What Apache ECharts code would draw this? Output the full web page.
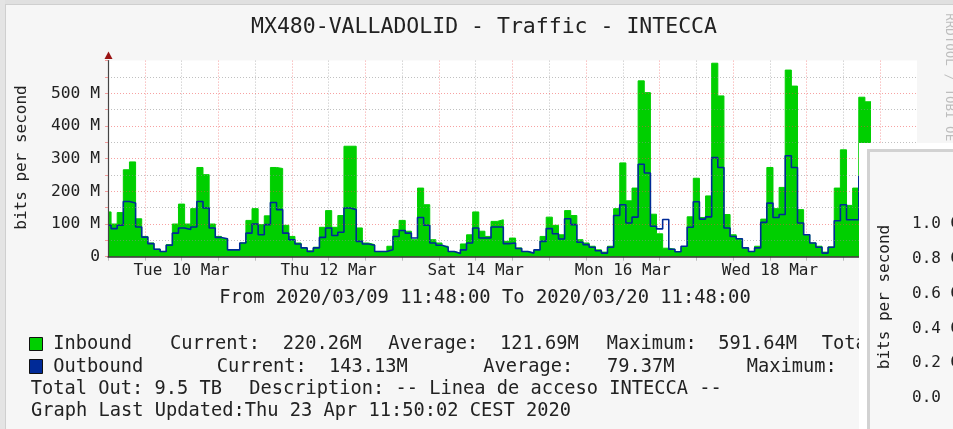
<!DOCTYPE html>
<html>
<head>
<meta charset="utf-8">
<script src="https://cdn.jsdelivr.net/npm/echarts@6/dist/echarts.min.js"></script>
<style>
  html, body { margin: 0; padding: 0; background: #f6f6f6; }
  #chart { width: 953px; height: 429px; }
</style>
</head>
<body>
<div id="chart"></div>
<script>
// 2h averages in Mbit/s, first bucket starts at the left edge (9 Mar ~12:00)
const inboundM = [
  137, 100, 135, 266, 290, 116, 62, 42, 23, 16, 37, 100,
  161, 100, 147, 273, 251, 100, 62, 55, 21, 21, 42, 111,
  147, 98, 125, 273, 270, 96, 62, 42, 27, 18, 29, 90,
  141, 90, 126, 338, 338, 88, 42, 37, 16, 16, 32, 83,
  111, 78, 52, 210, 159, 52, 42, 32, 16, 11, 39, 67,
  137, 78, 62, 108, 113, 47, 57, 27, 16, 11, 21, 62,
  121, 96, 67, 141, 126, 52, 42, 32, 21, 14, 32, 147,
  287, 171, 210, 538, 502, 130, 70, 26, 23, 15, 28, 122,
  240, 120, 186, 592, 492, 129, 67, 55, 27, 16, 32, 115,
  273, 147, 212, 571, 522, 144, 67, 42, 32, 14, 30, 210,
  327, 157, 210, 488, 474
];
const outboundM = [
  96, 86, 96, 169, 164, 91, 60, 40, 23, 16, 35, 72,
  88, 83, 91, 169, 149, 88, 59, 55, 21, 21, 42, 72,
  100, 67, 98, 166, 144, 72, 52, 39, 27, 16, 27, 59,
  88, 65, 75, 149, 144, 47, 39, 35, 16, 16, 21, 62,
  80, 72, 57, 120, 96, 42, 35, 29, 16, 10, 21, 42,
  88, 57, 57, 91, 91, 40, 42, 25, 16, 11, 21, 47,
  86, 70, 54, 116, 98, 44, 37, 29, 18, 11, 29, 126,
  159, 103, 121, 283, 256, 93, 85, 114, 23, 15, 32, 90,
  168, 115, 122, 303, 273, 88, 62, 55, 27, 16, 27, 105,
  164, 120, 129, 309, 273, 103, 67, 42, 29, 11, 29, 110,
  159, 113, 113, 246, 240
];
// hours counted from 9 Mar 00:00
const firstHour = 12;
const firstStep = 13;
const stepHours = 2;
const dayLabels = ['Tue 10 Mar', 'Thu 12 Mar', 'Sat 14 Mar', 'Mon 16 Mar', 'Wed 18 Mar'];
const dayLabelHours = [36, 84, 132, 180, 228];

const MONO = '"DejaVu Sans Mono", monospace';
const GREEN = '#00CF00';
const BLUE = '#002A97';
const RED_GRID = 'rgba(240, 70, 70, 0.5)';
const GRAY_GRID = 'rgba(140, 140, 140, 0.55)';

function toSteps(vals) {
  const pts = vals.map((v, k) => [k === 0 ? firstHour : firstStep + stepHours * (k - 1), v]);
  pts.push([firstStep + stepHours * (vals.length - 1), vals[vals.length - 1]]);
  return pts;
}

function txt(text, x, y, size, opts) {
  opts = opts || {};
  return {
    type: 'text', x: x, y: y, z: opts.z || 10, rotation: opts.rotation || 0,
    style: {
      text: text, fill: opts.fill || '#222', font: size + 'px ' + MONO,
      align: opts.align || 'left', verticalAlign: 'middle'
    }
  };
}

// legend rows: [x, text]
const legendRow1 = [[53.3, 'Inbound'], [170, 'Current:'], [282.7, '220.26M'], [388.3, 'Average:'],
  [500, '121.69M'], [606.7, 'Maximum:'], [718.3, '591.64M'], [821.7, 'Total In:']];
const legendRow2 = [[53.3, 'Outbound'], [216.7, 'Current:'], [329, '143.13M'], [483.3, 'Average:'],
  [607, '79.37M'], [746.7, 'Maximum:']];

const graphics = [
  { type: 'rect', shape: { x: 0, y: 0, width: 953, height: 4 }, style: { fill: '#e0e0e0' }, z: 1 },
  { type: 'rect', shape: { x: 0, y: 0, width: 5, height: 429 }, style: { fill: '#e4e4e4' }, z: 1 },
  { type: 'line', shape: { x1: 5, y1: 4.5, x2: 953, y2: 4.5 }, style: { stroke: '#cfcfcf', lineWidth: 1 }, z: 1 },
  { type: 'line', shape: { x1: 5.5, y1: 4, x2: 5.5, y2: 429 }, style: { stroke: '#cfcfcf', lineWidth: 1 }, z: 1 },
  txt('MX480-VALLADOLID - Traffic - INTECCA', 484, 27.5, 21.5, { align: 'center' }),
  txt('bits per second', 21.5, 157.5, 16, { align: 'center', rotation: Math.PI / 2 }),
  txt('RRDTOOL / TOBI OETIKER', 949, 96, 12.5, { align: 'center', rotation: -Math.PI / 2, fill: '#bdbdbd' }),
  { type: 'polygon', shape: { points: [[104.5, 59], [112.5, 59], [108.5, 51.5]] }, style: { fill: '#9a1414' }, z: 20 },
  txt('From 2020/03/09 11:48:00 To 2020/03/20 11:48:00', 485, 298, 18.8, { align: 'center' }),
  { type: 'rect', shape: { x: 29.5, y: 337.5, width: 13, height: 13 }, style: { fill: GREEN, stroke: '#111', lineWidth: 1 }, z: 10 },
  { type: 'rect', shape: { x: 29.5, y: 359.5, width: 13, height: 14 }, style: { fill: BLUE, stroke: '#111', lineWidth: 1 }, z: 10 },
  txt('Total Out: 9.5 TB', 30.7, 389, 18.7),
  txt('Description: -- Linea de acceso INTECCA --', 249.3, 389, 18.7),
  txt('Graph Last Updated:Thu 23 Apr 11:50:02 CEST 2020', 31, 411.5, 18.7),
  // second graph window overlapping on the right
  { type: 'rect', shape: { x: 859, y: 143, width: 100, height: 300 }, style: { fill: '#ffffff' }, z: 50 },
  { type: 'rect', shape: { x: 868.5, y: 150.5, width: 100, height: 300 }, style: { fill: '#f7f7f7', stroke: '#d2d2d2', lineWidth: 3 }, z: 51 },
  txt('bits per second', 885, 297, 16, { align: 'center', rotation: Math.PI / 2, z: 52 })
];
legendRow1.forEach(p => graphics.push(txt(p[1], p[0], 344, 18.7)));
legendRow2.forEach(p => graphics.push(txt(p[1], p[0], 367, 18.7)));

const chart = echarts.init(document.getElementById('chart'), null, { renderer: 'canvas' });
chart.setOption({
  animation: false,
  backgroundColor: '#f6f6f6',
  grid: [
    { left: 108, right: 36, top: 60.6, bottom: 172.3, show: true, backgroundColor: '#ffffff', borderWidth: 0, outerBoundsMode: 'none' },
    { left: 970, width: 60, top: 224, bottom: 31, outerBoundsMode: 'none' }
  ],
  xAxis: [
    {
      type: 'value', gridIndex: 0, min: 12, max: 276, interval: 12,
      axisLine: { show: false },
      axisTick: { show: true, length: 4, lineStyle: { color: GRAY_GRID } },
      axisLabel: {
        fontFamily: MONO, fontSize: 16, color: '#222', margin: 6,
        formatter: v => {
          const i = dayLabelHours.indexOf(v);
          return i >= 0 ? dayLabels[i] : '';
        }
      },
      splitLine: { show: true, showMaxLine: false, lineStyle: { color: [GRAY_GRID, RED_GRID], type: [1, 2], width: 1 } }
    },
    {
      type: 'value', gridIndex: 0, min: 12, max: 276, position: 'bottom', z: 5,
      axisLine: { show: true, onZero: false, lineStyle: { color: '#333', width: 1.5 } },
      axisTick: { show: false }, axisLabel: { show: false }, splitLine: { show: false }
    },
    { type: 'value', gridIndex: 1, show: false }
  ],
  yAxis: [
    {
      type: 'value', gridIndex: 0, min: 0, max: 600, interval: 50, z: 5,
      axisLine: { show: true, lineStyle: { color: '#444', width: 1.2 } },
      axisTick: { show: true, length: 3, lineStyle: { color: RED_GRID } },
      axisLabel: {
        fontFamily: MONO, fontSize: 16.3, color: '#222', margin: 8,
        formatter: v => (v % 100 !== 0 || v >= 600) ? '' : (v === 0 ? '0' : v + ' M')
      },
      splitLine: { show: true, showMaxLine: false, lineStyle: { color: [RED_GRID, GRAY_GRID], type: [1, 2], width: 1 } }
    },
    {
      type: 'value', gridIndex: 1, min: 0, max: 1, interval: 0.2, z: 60,
      axisLine: { show: false }, axisTick: { show: false }, splitLine: { show: false },
      axisLabel: {
        fontFamily: MONO, fontSize: 16, color: '#222', align: 'left', margin: 58,
        formatter: v => v === 0 ? '0.0' : v.toFixed(1) + ' G'
      }
    }
  ],
  series: [
    {
      name: 'Inbound', type: 'line', step: 'end', xAxisIndex: 0, yAxisIndex: 0,
      data: toSteps(inboundM), symbol: 'none', silent: true, z: 2,
      lineStyle: { color: GREEN, width: 1 },
      areaStyle: { color: GREEN, opacity: 1 }
    },
    {
      name: 'Outbound', type: 'line', step: 'end', xAxisIndex: 0, yAxisIndex: 0,
      data: toSteps(outboundM), symbol: 'none', silent: true, z: 3,
      lineStyle: { color: BLUE, width: 1.6 }
    }
  ],
  graphic: graphics
});
window.addEventListener('resize', () => chart.resize());
</script>
</body>
</html>
